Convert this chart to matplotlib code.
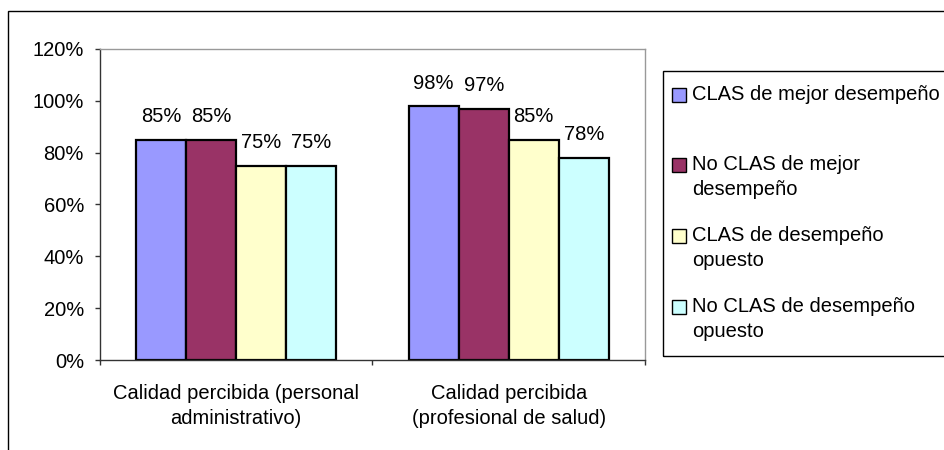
import matplotlib.pyplot as plt
import matplotlib.patches as mpatches
import numpy as np

plt.rcParams['font.family'] = ['Liberation Sans', 'DejaVu Sans']

categories = ["Calidad percibida (personal\nadministrativo)",
              "Calidad percibida\n(profesional de salud)"]
series = ["CLAS de mejor desempeño",
          "No CLAS de mejor\ndesempeño",
          "CLAS de desempeño\nopuesto",
          "No CLAS de desempeño\nopuesto"]
values = [[85, 98],
          [85, 97],
          [75, 85],
          [75, 78]]
colors = ["#9999FF", "#993366", "#FFFFCC", "#CCFFFF"]
yticks = [0, 20, 40, 60, 80, 100, 120]

fs = 14.5
fig = plt.figure(figsize=(9.45, 4.5), dpi=100)
W, H = 945, 450

# outer chart border (only top and left visible)
fig.add_artist(mpatches.Rectangle((8 / W, -0.1), 1.2, (450 - 11) / H + 0.1,
                                  transform=fig.transFigure, fill=False,
                                  edgecolor="black", linewidth=1))

ax = fig.add_axes([100 / W, 90 / H, 545 / W, 311 / H])
x = np.arange(len(categories))
bw = 0.1835
for i, (name, vals, c) in enumerate(zip(series, values, colors)):
    pos = x + (i - 1.5) * bw
    ax.bar(pos, vals, bw, color=c, edgecolor="black", linewidth=1.6)
    for px, v in zip(pos, vals):
        ax.annotate(f"{v}%", (px, v), xytext=(0, 16.5), textcoords="offset points",
                    ha="center", va="center", fontsize=fs)

ax.set_xlim(-0.5, 1.5)
ax.set_ylim(0, 120)
ax.set_yticks(yticks)
ax.set_yticklabels([f"{t}%" for t in yticks], fontsize=fs)
ax.tick_params(axis="y", direction="out", length=3.6, width=1, pad=8, color="#333333")
ax.set_xticks(x)
ax.set_xticklabels(categories, fontsize=fs, linespacing=1.4)
ax.set_xticks([-0.5, 0.5, 1.5], minor=True)
ax.tick_params(axis="x", which="major", length=0, pad=17)
ax.tick_params(axis="x", which="minor", length=3.6, width=1, color="#333333")
for s in ["left", "bottom"]:
    ax.spines[s].set_color("#333333")
for s in ["top", "right"]:
    ax.spines[s].set_color("#999999")
for s in ax.spines.values():
    s.set_linewidth(1)

# legend
fig.add_artist(mpatches.Rectangle((663 / W, (H - 356) / H), (W - 663) / W + 0.01, (356 - 71) / H,
                                  transform=fig.transFigure, fill=False,
                                  edgecolor="black", linewidth=1))
ys = [95, 165, 236, 307]
for name, c, yy in zip(series, colors, ys):
    fig.add_artist(mpatches.Rectangle((672 / W, (H - yy - 7) / H), 14 / W, 14 / H,
                                      transform=fig.transFigure, facecolor=c,
                                      edgecolor="black", linewidth=1))
    fig.text(692 / W, (H - yy + 10) / H, name, fontsize=fs, va="top", ha="left",
             linespacing=1.4, transform=fig.transFigure)

fig.savefig("out.png", dpi=100)
